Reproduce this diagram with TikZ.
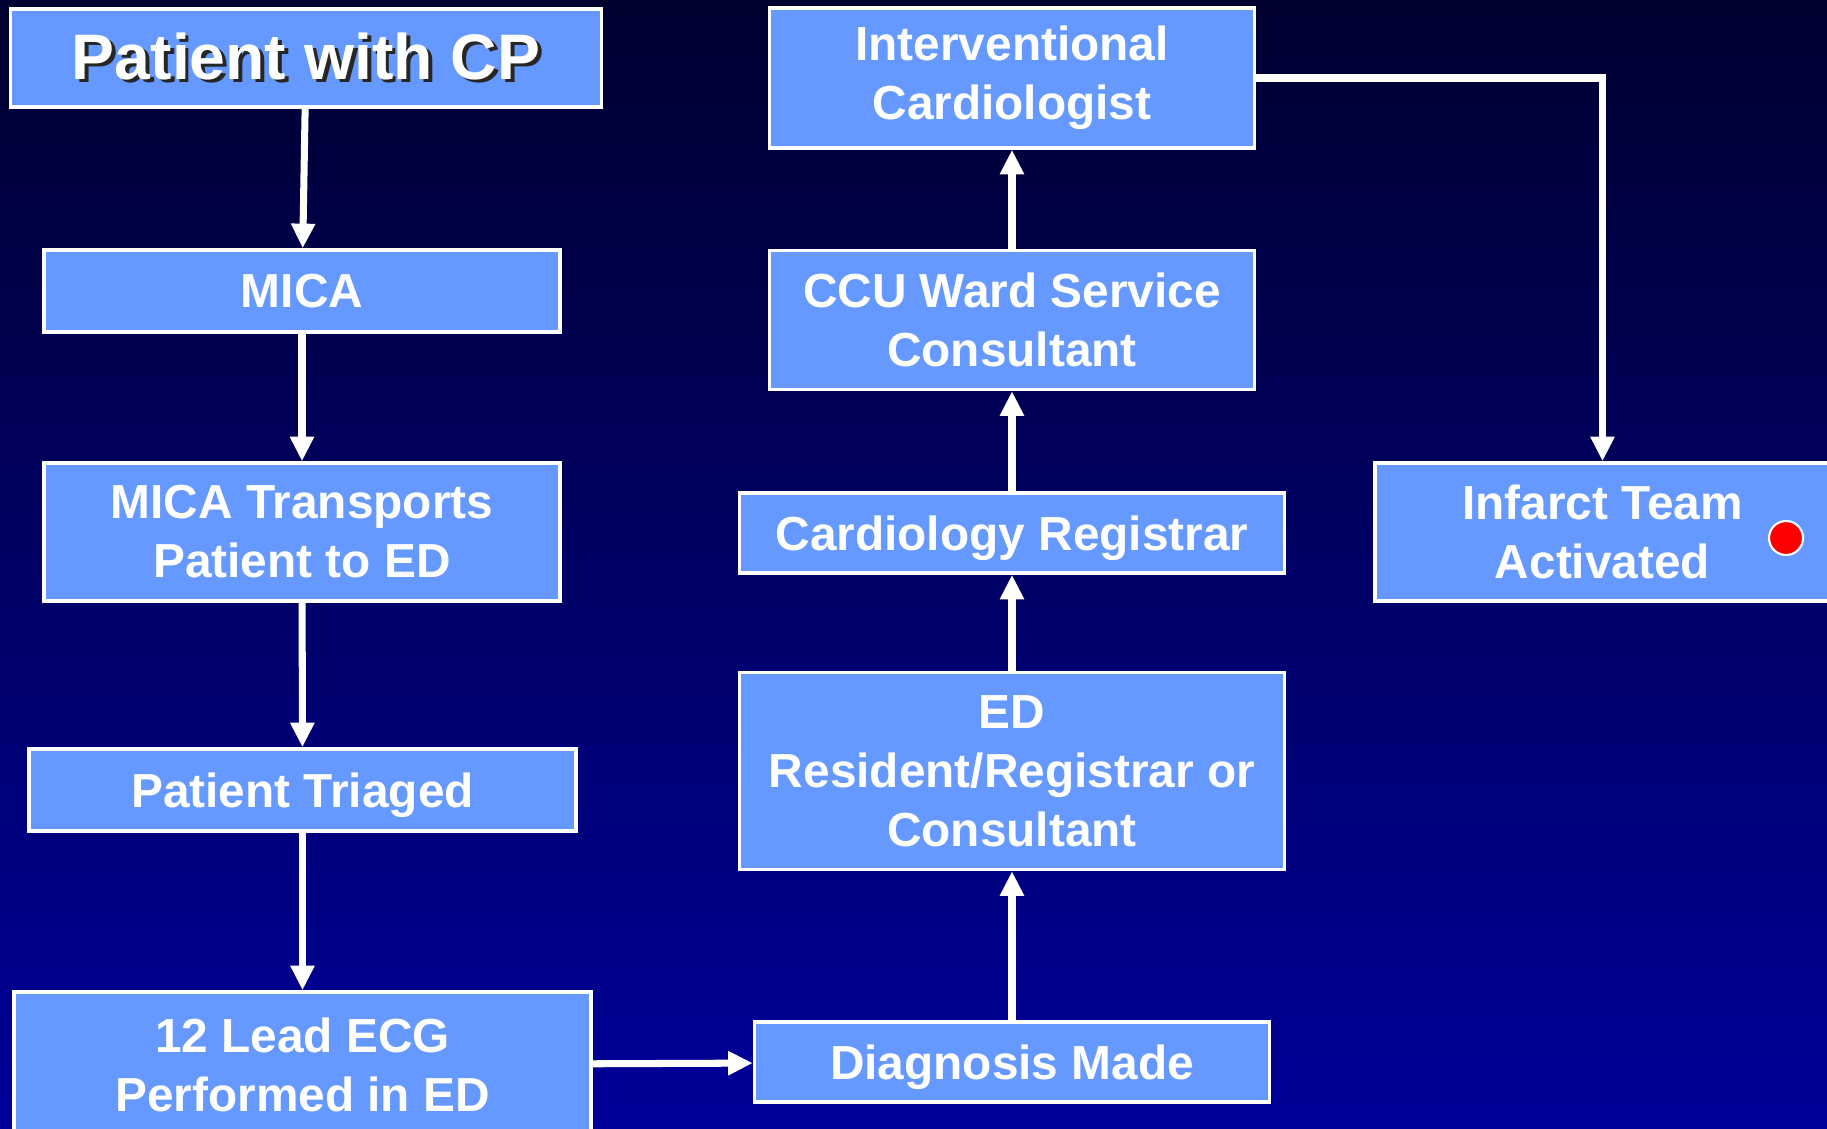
\documentclass[tikz,border=0pt]{standalone}
\usepackage{fontspec}
\setmainfont{Liberation Sans}
\usetikzlibrary{arrows.meta}

\definecolor{boxblue}{HTML}{6699FF}
\definecolor{skytop}{HTML}{000030}
\definecolor{skybottom}{HTML}{00009A}

% text with a dark drop shadow
\newcommand{\shadowed}[1]{\rlap{\raisebox{-1.1pt}{\hspace{1.1pt}\textcolor{black!85}{#1}}}#1}

\tikzset{
  stepbox/.style={draw=white, line width=1pt, fill=boxblue, text=white,
    font=\bfseries\fontsize{13.6}{16.8}\selectfont, align=center, inner sep=0pt},
  oneline/.style={text depth=0pt},
  flow/.style={draw=white, line width=2pt, -{Triangle[width=6.5pt,length=7pt]}}
}

\begin{document}
\begin{tikzpicture}

% background
\shade[top color=skytop, bottom color=skybottom] (0,0) rectangle (18.27,-11.29);
\useasboundingbox (0,0) rectangle (18.27,-11.29);
\clip (0,0) rectangle (18.27,-11.29);

% linke Spalte
\node[stepbox, minimum width=5.91cm, minimum height=0.98cm, font=\bfseries\fontsize{18.3}{22}\selectfont] (cp) at (3.06,-0.58) {\shadowed{Patient with CP}};
\node[stepbox, minimum width=5.16cm, minimum height=0.82cm] (mica) at (3.02,-2.91) {MICA};
\node[stepbox, minimum width=5.16cm, minimum height=1.38cm] (transp) at (3.02,-5.32) {MICA Transports\\Patient to ED};
\node[stepbox, oneline, minimum width=5.47cm, minimum height=0.82cm] (triaged) at (3.025,-7.90) {Patient Triaged};
\node[stepbox, minimum width=5.77cm, minimum height=1.46cm] (ecg) at (3.025,-10.65) {12 Lead ECG\\Performed in ED};

% mittlere Spalte
\node[stepbox, oneline, minimum width=5.15cm, minimum height=0.80cm] (diag) at (10.12,-10.62) {Diagnosis Made};
\node[stepbox, minimum width=5.45cm, minimum height=1.97cm] (edres) at (10.12,-7.71) {ED\\Resident/Registrar or\\Consultant};
\node[stepbox, oneline, minimum width=5.45cm, minimum height=0.80cm] (reg) at (10.12,-5.33) {Cardiology Registrar};
\node[stepbox, minimum width=4.85cm, minimum height=1.39cm] (ccu) at (10.12,-3.20) {CCU Ward Service\\Consultant};
\node[stepbox, minimum width=4.85cm, minimum height=1.40cm] (interv) at (10.12,-0.78) {Interventional\\Cardiologist};

% rechts
\node[stepbox, minimum width=4.55cm, minimum height=1.38cm] (infarct) at (16.025,-5.32) {Infarct Team\\Activated};
\node[circle, draw=white, line width=0.6pt, fill=red, minimum size=0.34cm, inner sep=0pt] (dot) at (17.86,-5.38) {};

% Pfeile
\draw[flow] (cp) -- (mica);
\draw[flow] (mica) -- (transp);
\draw[flow] (transp) -- (triaged);
\draw[flow] (triaged) -- (ecg);
\draw[flow] (ecg) -- (diag);
\draw[flow] (diag) -- (edres);
\draw[flow] (edres) -- (reg);
\draw[flow] (reg) -- (ccu);
\draw[flow] (ccu) -- (interv);
\draw[flow] (interv.east) -| (infarct.north);

\end{tikzpicture}
\end{document}
